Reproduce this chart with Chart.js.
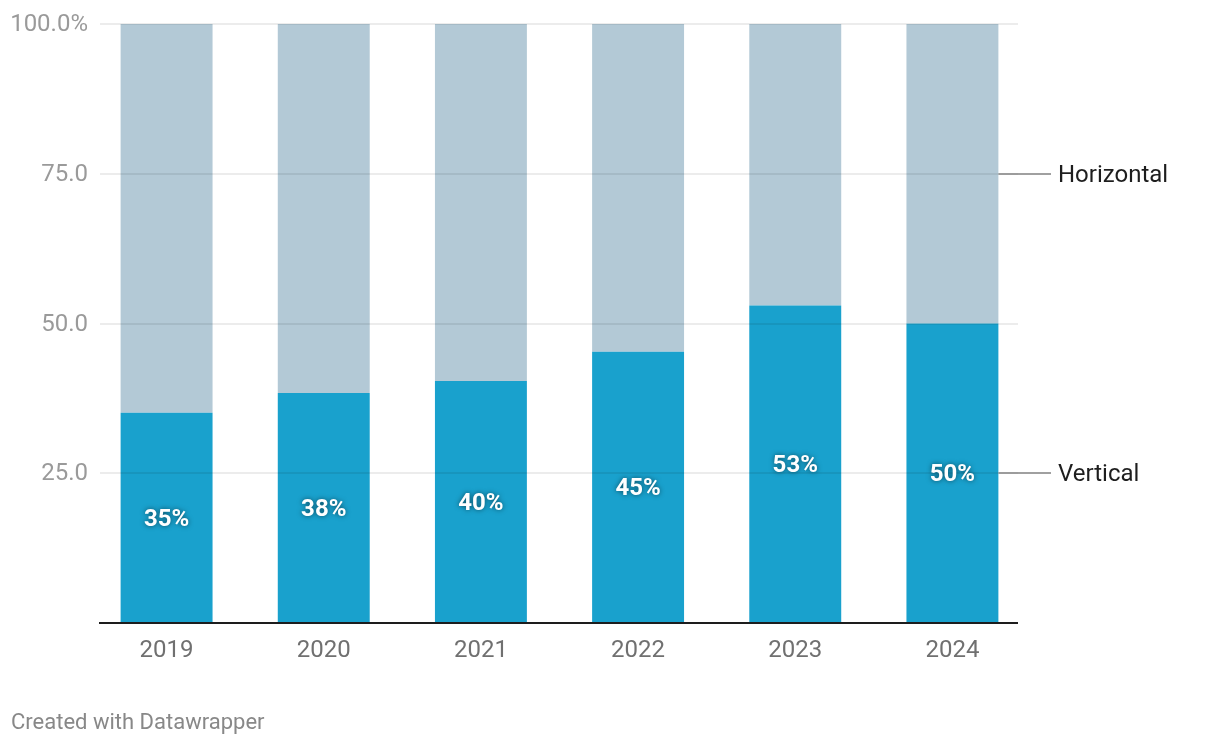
<!DOCTYPE html>
<html>
<head>
<meta charset="utf-8">
<script src="https://cdn.jsdelivr.net/npm/chart.js@4"></script>
<style>
  html, body { margin: 0; padding: 0; background: #fff; }
  canvas { display: block; }
</style>
</head>
<body>
<canvas id="chart" width="1220" height="746"></canvas>
<script>
// data
const years = ['2019', '2020', '2021', '2022', '2023', '2024'];
const vertical = [35.1, 38.4, 40.4, 45.3, 53.0, 50.0];
const horizontal = [64.9, 61.6, 59.6, 54.7, 47.0, 50.0];
const gridValues = [25, 50, 75, 100];
const seriesNames = ['Vertical', 'Horizontal'];

const FONT = 'Roboto';

// gridlines, baseline, value labels and series labels on the right
const overlay = {
    id: 'overlay',
    afterDatasetsDraw(chart) {
        const ctx = chart.ctx;
        const y = chart.scales.y;
        const gx0 = 100, gx1 = 1018;

        ctx.save();
        ctx.strokeStyle = 'rgba(0,0,0,0.1)';
        ctx.lineWidth = 1.5;
        gridValues.forEach(v => {
            const py = Math.round(y.getPixelForValue(v));
            ctx.beginPath();
            ctx.moveTo(gx0, py);
            ctx.lineTo(gx1, py);
            ctx.stroke();
        });

        // baseline
        const by = y.getPixelForValue(0);
        ctx.strokeStyle = '#1d1d1d';
        ctx.lineWidth = 2;
        ctx.beginPath();
        ctx.moveTo(gx0 - 1, by);
        ctx.lineTo(gx1, by);
        ctx.stroke();

        // percent labels inside the blue bars
        const meta = chart.getDatasetMeta(0);
        ctx.font = 'bold 24px ' + FONT;
        ctx.textAlign = 'center';
        ctx.textBaseline = 'middle';
        ctx.fillStyle = '#fff';
        ctx.shadowColor = 'rgba(0,0,0,0.55)';
        ctx.shadowBlur = 5;
        meta.data.forEach((bar, i) => {
            ctx.fillText(Math.round(vertical[i]) + '%', bar.x, (bar.y + bar.base) / 2 + 2);
        });
        ctx.shadowColor = 'transparent';
        ctx.shadowBlur = 0;

        // series labels at the right of the last bar
        ctx.font = '24px ' + FONT;
        ctx.textAlign = 'left';
        ctx.fillStyle = '#1e1e1e';
        ctx.strokeStyle = '#808080';
        ctx.lineWidth = 1.5;
        seriesNames.forEach((name, d) => {
            const m = chart.getDatasetMeta(d);
            const bar = m.data[m.data.length - 1];
            const cy = Math.round((bar.y + bar.base) / 2);
            const right = bar.x + bar.width / 2;
            ctx.beginPath();
            ctx.moveTo(right, cy);
            ctx.lineTo(1051, cy);
            ctx.stroke();
            ctx.fillText(name, 1058, cy + 2);
        });

        // credit
        ctx.font = '22px ' + FONT;
        ctx.fillStyle = '#888';
        ctx.fillText('Created with Datawrapper', 11, 723);
        ctx.restore();
    }
};

new Chart(document.getElementById('chart'), {
    type: 'bar',
    data: {
        labels: years,
        datasets: [
            { label: seriesNames[0], data: vertical, backgroundColor: '#19a1cd' },
            { label: seriesNames[1], data: horizontal, backgroundColor: '#b3c9d6' }
        ]
    },
    options: {
        responsive: false,
        animation: false,
        layout: { padding: { left: 0, right: 189, top: 24, bottom: 83 } },
        datasets: { bar: { categoryPercentage: 1, barPercentage: 0.585 } },
        plugins: { legend: { display: false }, tooltip: { enabled: false } },
        scales: {
            x: {
                stacked: true,
                grid: { display: false, drawTicks: false },
                border: { display: false },
                ticks: { font: { family: FONT, size: 24 }, color: '#707070', padding: 14 },
                afterFit: s => { s.height = 40; }
            },
            y: {
                stacked: true,
                min: 0,
                max: 100,
                grid: { display: false, drawTicks: false },
                border: { display: false },
                ticks: {
                    stepSize: 25,
                    padding: 0,
                    labelOffset: 1,
                    font: { family: FONT, size: 24 },
                    color: '#9a9a9a',
                    callback: v => v === 0 ? '' : (v === 100 ? '100.0%' : v.toFixed(1))
                },
                afterFit: s => { s.width = 88; }
            }
        }
    },
    plugins: [overlay]
});
</script>
</body>
</html>
